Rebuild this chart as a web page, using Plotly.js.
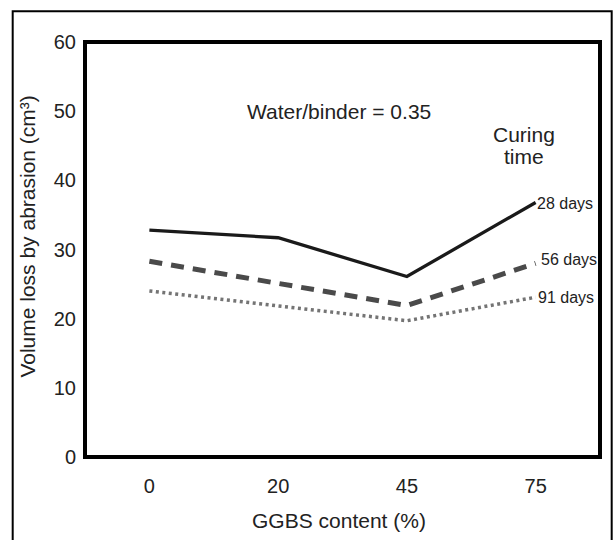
<!DOCTYPE html>
<html>
<head>
<meta charset="utf-8">
<script src="https://cdn.plot.ly/plotly-3.0.1.min.js"></script>
<style>html,body{margin:0;padding:0;background:#fff;}</style>
</head>
<body>
<div id="chart" style="width:615px;height:540px;"></div>
<script>
const categories = ["0", "20", "45", "75"];
const days28 = [32.8, 31.7, 26.1, 36.8];
const days56 = [28.3, 25.1, 21.9, 28.0];
const days91 = [24.0, 21.9, 19.7, 23.1];
const seriesLabels = ["28 days", "56 days", "91 days"];

const font = "Liberation Sans, Arial, sans-serif";
const txt = "#222";
const traces = [
  {x: categories, y: days28, type: "scatter", mode: "lines", name: seriesLabels[0],
   line: {color: "#1a1a1a", width: 3.3}},
  {x: categories, y: days56, type: "scatter", mode: "lines", name: seriesLabels[1],
   line: {color: "#4a4a4a", width: 5, dash: "13px,9px"}},
  {x: categories, y: days91, type: "scatter", mode: "lines", name: seriesLabels[2],
   line: {color: "#747474", width: 3.5, dash: "3px,3.5px"}}
];
const lastY = [days28[3], days56[3], days91[3]];
const labelX = [0.874, 0.8816, 0.876];
const labelShift = [-1, 4, 0];
const annotations = seriesLabels.map((t, i) => ({
  x: labelX[i], y: lastY[i], xref: "paper", yref: "y", text: t, showarrow: false,
  xanchor: "left", yanchor: "middle", yshift: labelShift[i],
  font: {family: font, size: 16, color: txt}
}));
annotations.push({x: 0.493, y: 0.832, xref: "paper", yref: "paper", text: "Water/binder = 0.35",
  showarrow: false, xanchor: "center", yanchor: "middle", font: {family: font, size: 21, color: txt}});
annotations.push({x: 0.852, y: 0.777, xref: "paper", yref: "paper", text: "Curing",
  showarrow: false, xanchor: "center", yanchor: "middle", font: {family: font, size: 21, color: txt}});
annotations.push({x: 0.852, y: 0.7245, xref: "paper", yref: "paper", text: "time",
  showarrow: false, xanchor: "center", yanchor: "middle", font: {family: font, size: 21, color: txt}});
annotations.push({x: -0.1107, y: 0.531, xref: "paper", yref: "paper", text: "Volume loss by abrasion (cm³)",
  showarrow: false, textangle: -90, xanchor: "center", yanchor: "middle", font: {family: font, size: 21, color: txt}});
annotations.push({x: 0.493, y: -0.152, xref: "paper", yref: "paper", text: "GGBS content (%)",
  showarrow: false, xanchor: "center", yanchor: "middle", font: {family: font, size: 21, color: txt}});

const layout = {
  width: 615, height: 540,
  margin: {l: 85, r: 15, t: 42, b: 83},
  paper_bgcolor: "#fff", plot_bgcolor: "#fff",
  showlegend: false,
  font: {family: font, size: 20, color: txt},
  xaxis: {
    type: "category", range: [-0.5, 3.5], showgrid: false, zeroline: false,
    showline: false, ticks: "", ticklabelstandoff: 15,
    tickfont: {family: font, size: 20, color: txt}
  },
  yaxis: {
    range: [0, 60], dtick: 10, showgrid: false, zeroline: false,
    showline: false, ticks: "", ticklabelstandoff: 8,
    tickfont: {family: font, size: 20, color: txt}
  },
  annotations: annotations,
  shapes: [
    {type: "rect", xref: "paper", yref: "paper", x0: 0, x1: 1, y0: 0, y1: 1,
     line: {color: "#000", width: 4}, fillcolor: "rgba(0,0,0,0)", layer: "above"},
    {type: "rect", xref: "paper", yref: "paper", x0: -0.1404, x1: 1.0227, y0: -0.25, y1: 1.0743,
     line: {color: "#000", width: 2}, fillcolor: "rgba(0,0,0,0)", layer: "above"}
  ]
};
Plotly.newPlot("chart", traces, layout, {displayModeBar: false, staticPlot: true});
</script>
</body>
</html>
